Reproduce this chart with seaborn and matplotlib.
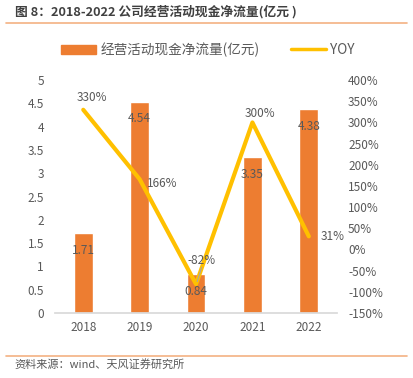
import matplotlib
matplotlib.use("Agg")
import matplotlib.pyplot as plt
import seaborn as sns
import pandas as pd
from matplotlib.lines import Line2D
from matplotlib.patches import Patch

years = ['2018', '2019', '2020', '2021', '2022']
cash_flow = [1.71, 4.54, 0.84, 3.35, 4.38]
yoy = [330, 166, -82, 300, 31]

bar_color = '#ED7D31'
line_color = '#FFC000'
gray = '#595959'

sns.set_theme(style='white')
plt.rcParams['font.family'] = ['Noto Sans CJK SC', 'DejaVu Sans']

df = pd.DataFrame({'year': years, 'cash': cash_flow, 'yoy': yoy})

fig = plt.figure(figsize=(4.14, 3.78), dpi=100)
ax = fig.add_axes([0.133, 0.172, 0.681, 0.616])

sns.barplot(data=df, x='year', y='cash', color=bar_color, width=0.33,
            saturation=1, ax=ax)
ax.set_ylim(0, 5)
ax.set_yticks([0, 0.5, 1, 1.5, 2, 2.5, 3, 3.5, 4, 4.5, 5])
ax.set_yticklabels(['0', '0.5', '1', '1.5', '2', '2.5', '3', '3.5', '4', '4.5', '5'])
ax.set_xlim(-0.5, 4.5)
ax.set_xlabel('')
ax.set_ylabel('')
for s in ['top', 'left', 'right']:
    ax.spines[s].set_visible(False)
ax.spines['bottom'].set_color('#D9D9D9')
ax.tick_params(axis='y', colors=gray, labelsize=8.5, length=0, pad=8)
ax.tick_params(axis='x', colors=gray, labelsize=8.5, length=0, pad=6)

ax2 = ax.twinx()
sns.lineplot(data=df, x='year', y='yoy', color=line_color, linewidth=3,
             ax=ax2, sort=False)
ax2.set_ylim(-150, 400)
ax2.set_yticks(range(-150, 401, 50))
ax2.set_yticklabels([f'{t}%' for t in range(-150, 401, 50)])
ax2.set_ylabel('')
ax2.set_xlabel('')
ax2.set_xlim(-0.5, 4.5)
for s in ['top', 'left', 'right', 'bottom']:
    ax2.spines[s].set_visible(False)
ax2.tick_params(axis='y', colors=gray, labelsize=8.5, length=0, pad=8)

# bar labels (drawn on top axes so they sit above the line like the original)
for i, v in enumerate(cash_flow):
    y2 = -150 + (v - 0.37) / 5 * 550
    ax2.text(i, y2, f'{v:.2f}', ha='center', va='center',
             color=gray, fontsize=8.5)

# yoy labels
yoy_pos = [(0.16, 28), (0.4, -10), (0.1, 57), (0.14, 22), (0.43, 0)]
for i, v in enumerate(yoy):
    dx, dy = yoy_pos[i]
    ax2.text(i + dx, v + dy, f'{v}%', ha='center', va='center',
             color=gray, fontsize=8.5)
# leader line for -82%
ax2.plot([2.1, 2.02], [-82 + 40, -82 + 6], color='#A6A6A6', lw=0.8)

# legend
handles = [Patch(color=bar_color), Line2D([0], [0], color=line_color, lw=2.5)]
fig.legend(handles, ['经营活动现金净流量(亿元)', 'YOY'], loc='center',
           bbox_to_anchor=(0.502, 0.868), ncol=2, frameon=False,
           fontsize=9.8, labelcolor=gray, handlelength=2.6,
           handletextpad=0.3, columnspacing=2.3)

# title and source
fig.text(0.036, 0.968, '图 8：2018-2022 公司经营活动现金净流量(亿元 )',
         fontsize=9.2, fontweight='bold', color='#404040', va='center')
fig.add_artist(Line2D([0.015, 0.982], [0.94, 0.94], color='#F4B183', lw=1.2))
fig.add_artist(Line2D([0.015, 0.982], [0.058, 0.058], color='#F4B183', lw=1.2))
fig.text(0.036, 0.037, '资料来源：wind、天风证券研究所', fontsize=8,
         color=gray, va='center')

fig.savefig('out.png', dpi=100)
